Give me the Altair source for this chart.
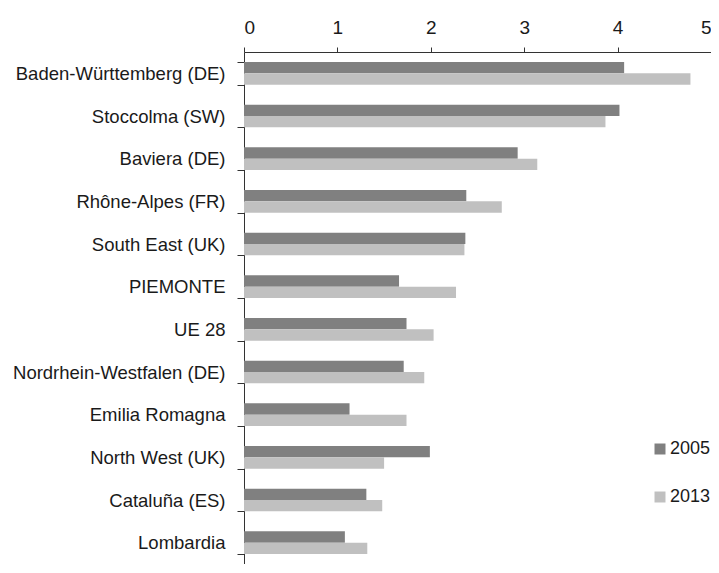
import altair as alt
import pandas as pd

regions = ["Baden-Württemberg (DE)", "Stoccolma (SW)", "Baviera (DE)", "Rhône-Alpes (FR)",
           "South East (UK)", "PIEMONTE", "UE 28", "Nordrhein-Westfalen (DE)",
           "Emilia Romagna", "North West (UK)", "Cataluña (ES)", "Lombardia"]
v2005 = [4.07, 4.02, 2.93, 2.38, 2.37, 1.66, 1.74, 1.71, 1.13, 1.99, 1.31, 1.08]
v2013 = [4.78, 3.87, 3.14, 2.76, 2.36, 2.27, 2.03, 1.93, 1.74, 1.50, 1.48, 1.32]
years = ["2005", "2013"]
colors = ["#808080", "#c0c0c0"]

rows = []
for r, a, b in zip(regions, v2005, v2013):
    rows.append({"region": r, "year": years[0], "value": a})
    rows.append({"region": r, "year": years[1], "value": b})
df = pd.DataFrame(rows)

FONT = "Liberation Sans"

chart = alt.Chart(df).mark_bar().encode(
    x=alt.X("value:Q", scale=alt.Scale(domain=[0, 5], nice=False),
            axis=alt.Axis(orient="top", values=[0, 1, 2, 3, 4, 5], format="d", title=None,
                          grid=False, domainColor="#333333", tickColor="#333333",
                          tickSize=5, labelFontSize=19, labelFont=FONT, labelColor="#1a1a1a",
                          labelPadding=10)),
    y=alt.Y("region:N", sort=regions,
            scale=alt.Scale(paddingInner=0.47, paddingOuter=0.235),
            axis=alt.Axis(title=None, tickBand="extent", domainColor="#333333",
                          tickColor="#333333", tickSize=7, labelFontSize=18.5, labelFont=FONT,
                          labelColor="#1a1a1a", labelPadding=12, labelLimit=300)),
    yOffset=alt.YOffset("year:N", sort=years),
    color=alt.Color("year:N", sort=years,
                    scale=alt.Scale(domain=years, range=colors),
                    legend=alt.Legend(title=None, orient="none", legendX=407, legendY=388,
                                      symbolType="square", symbolSize=121,
                                      symbolStrokeWidth=0,
                                      labelFontSize=18, labelFont=FONT, labelColor="#1a1a1a",
                                      rowPadding=30, labelOffset=1)),
).properties(
    width=467, height=512,
    padding={"left": 236, "top": 44, "right": 0, "bottom": 0},
    autosize=alt.AutoSizeParams(type="none"),
).configure_view(stroke=None)

chart.save("out.html", embed_options={"renderer": "svg", "actions": False})
